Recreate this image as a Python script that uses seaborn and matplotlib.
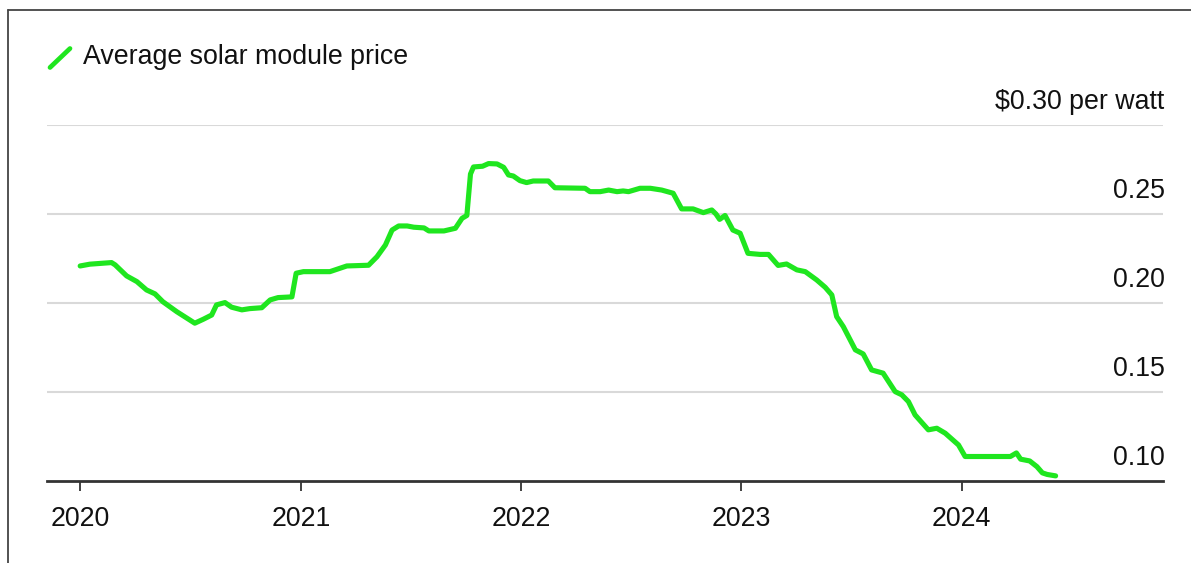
import matplotlib
matplotlib.use("Agg")
import matplotlib.pyplot as plt
from matplotlib.lines import Line2D
from matplotlib.transforms import blended_transform_factory
import pandas as pd
import seaborn as sns

# Average solar module price, $ per watt
dates = [
    "2020-01-01", "2020-01-17", "2020-02-22", "2020-02-28", "2020-03-18", "2020-04-04",
    "2020-04-20", "2020-05-04", "2020-05-17", "2020-06-09", "2020-07-09", "2020-07-23",
    "2020-08-06", "2020-08-14", "2020-08-28", "2020-09-08", "2020-09-25", "2020-10-08",
    "2020-10-28", "2020-11-11", "2020-11-24", "2020-12-17", "2020-12-24", "2021-01-05",
    "2021-02-18", "2021-03-18", "2021-04-23", "2021-05-07", "2021-05-21", "2021-06-01",
    "2021-06-12", "2021-06-26", "2021-07-07", "2021-07-24", "2021-08-01", "2021-08-26",
    "2021-09-14", "2021-09-25", "2021-10-03", "2021-10-09", "2021-10-14", "2021-10-29",
    "2021-11-08", "2021-11-22", "2021-12-03", "2021-12-11", "2021-12-19", "2021-12-30",
    "2022-01-10", "2022-01-21", "2022-02-15", "2022-02-26", "2022-04-17", "2022-04-25",
    "2022-05-12", "2022-05-26", "2022-06-09", "2022-06-19", "2022-06-28", "2022-07-17",
    "2022-08-03", "2022-08-22", "2022-09-10", "2022-09-24", "2022-10-13", "2022-10-30",
    "2022-11-13", "2022-11-20", "2022-11-26", "2022-12-05", "2022-12-18", "2022-12-30",
    "2023-01-12", "2023-02-01", "2023-02-15", "2023-02-23", "2023-03-03", "2023-03-17",
    "2023-04-03", "2023-04-17", "2023-05-06", "2023-05-20", "2023-05-31", "2023-06-08",
    "2023-06-19", "2023-07-09", "2023-07-22", "2023-08-05", "2023-08-24", "2023-09-13",
    "2023-09-24", "2023-10-05", "2023-10-16", "2023-11-07", "2023-11-21", "2023-12-05",
    "2023-12-27", "2024-01-07", "2024-03-22", "2024-04-01", "2024-04-08", "2024-04-23",
    "2024-05-05", "2024-05-14", "2024-05-22", "2024-06-05",
]
prices = [
    0.2207, 0.2217, 0.2226, 0.2213, 0.2151, 0.2119,
    0.2072, 0.2050, 0.2006, 0.1950, 0.1885, 0.1907,
    0.1931, 0.1988, 0.2001, 0.1975, 0.1960, 0.1967,
    0.1972, 0.2016, 0.2029, 0.2033, 0.2166, 0.2175,
    0.2175, 0.2207, 0.2211, 0.2259, 0.2325, 0.2409,
    0.2432, 0.2432, 0.2425, 0.2421, 0.2404, 0.2404,
    0.2419, 0.2475, 0.2491, 0.2724, 0.2764, 0.2768,
    0.2783, 0.2781, 0.2762, 0.2719, 0.2713, 0.2687,
    0.2676, 0.2685, 0.2685, 0.2647, 0.2644, 0.2625,
    0.2625, 0.2634, 0.2625, 0.2629, 0.2625, 0.2644,
    0.2644, 0.2634, 0.2616, 0.2528, 0.2528, 0.2507,
    0.2522, 0.2499, 0.2469, 0.2491, 0.2409, 0.2391,
    0.2278, 0.2272, 0.2272, 0.2241, 0.2210, 0.2218,
    0.2185, 0.2175, 0.2128, 0.2087, 0.2044, 0.1922,
    0.1866, 0.1735, 0.1712, 0.1622, 0.1604, 0.1500,
    0.1482, 0.1444, 0.1369, 0.1285, 0.1294, 0.1266,
    0.1200, 0.1135, 0.1135, 0.1155, 0.1120, 0.1110,
    0.1078, 0.1043, 0.1034, 0.1026,
]

years = [2020, 2021, 2022, 2023, 2024]
y_levels = [0.10, 0.15, 0.20, 0.25, 0.30]
y_labels = ["0.10", "0.15", "0.20", "0.25", r"\$0.30 per watt"]
series_name = "Average solar module price"

GREEN = "#1fe61f"
INK = "#111111"
GRID = "#d9d9d9"
FS = 19.3

sns.set_style("white")
plt.rcParams["font.family"] = ["Liberation Sans", "DejaVu Sans"]

df = pd.DataFrame({"date": pd.to_datetime(dates), "price": prices})

W, H = 1191, 563
fig = plt.figure(figsize=(W / 100, H / 100), dpi=100)
fig.patch.set_facecolor("white")
ax = fig.add_axes([47 / W, 1 - 480.5 / H, (1163 - 47) / W, (480.5 - 125) / H])

for v in y_levels[1:]:
    ax.axhline(v, color=GRID, lw=1.5, zorder=0)

sns.lineplot(data=df, x="date", y="price", ax=ax, color=GREEN, lw=3.7,
             solid_joinstyle="round", solid_capstyle="round", zorder=3)

ax.set_xlim(pd.Timestamp("2019-11-07"), pd.Timestamp("2024-11-30"))
ax.set_ylim(0.10, 0.30)
ax.set_xlabel("")
ax.set_ylabel("")

for side in ["left", "right", "top"]:
    ax.spines[side].set_visible(False)
ax.spines["bottom"].set_color("#333333")
ax.spines["bottom"].set_linewidth(2)

ax.set_yticks([])
ax.set_xticks([pd.Timestamp(f"{y}-01-01") for y in years])
ax.set_xticklabels([str(y) for y in years])
ax.tick_params(axis="x", bottom=True, direction="out", length=7, width=1.3,
               color="#333333", labelsize=FS, labelcolor=INK, pad=11)

trans = blended_transform_factory(ax.transAxes, ax.transData)
for v, lab in zip(y_levels, y_labels):
    ax.annotate(lab, xy=(1.0015, v), xycoords=trans, xytext=(0, 11.5),
                textcoords="offset points", ha="right", va="baseline",
                fontsize=FS, color=INK, annotation_clip=False)

# legend key and title
fig.add_artist(Line2D([50 / W, 70 / W], [1 - 67.5 / H, 1 - 48.5 / H],
                      transform=fig.transFigure, color=GREEN, lw=3.4,
                      solid_capstyle="round"))
fig.text(83 / W, 1 - 57.5 / H, series_name, fontsize=FS, color=INK,
         ha="left", va="center")

# outer frame (top and left edges)
fig.add_artist(Line2D([8 / W, 8 / W], [0, 1 - 9.5 / H], transform=fig.transFigure,
                      color="#444444", lw=1.3))
fig.add_artist(Line2D([8 / W, 1], [1 - 9.5 / H, 1 - 9.5 / H], transform=fig.transFigure,
                      color="#444444", lw=1.3))

fig.savefig("out.png", dpi=100, facecolor="white")
